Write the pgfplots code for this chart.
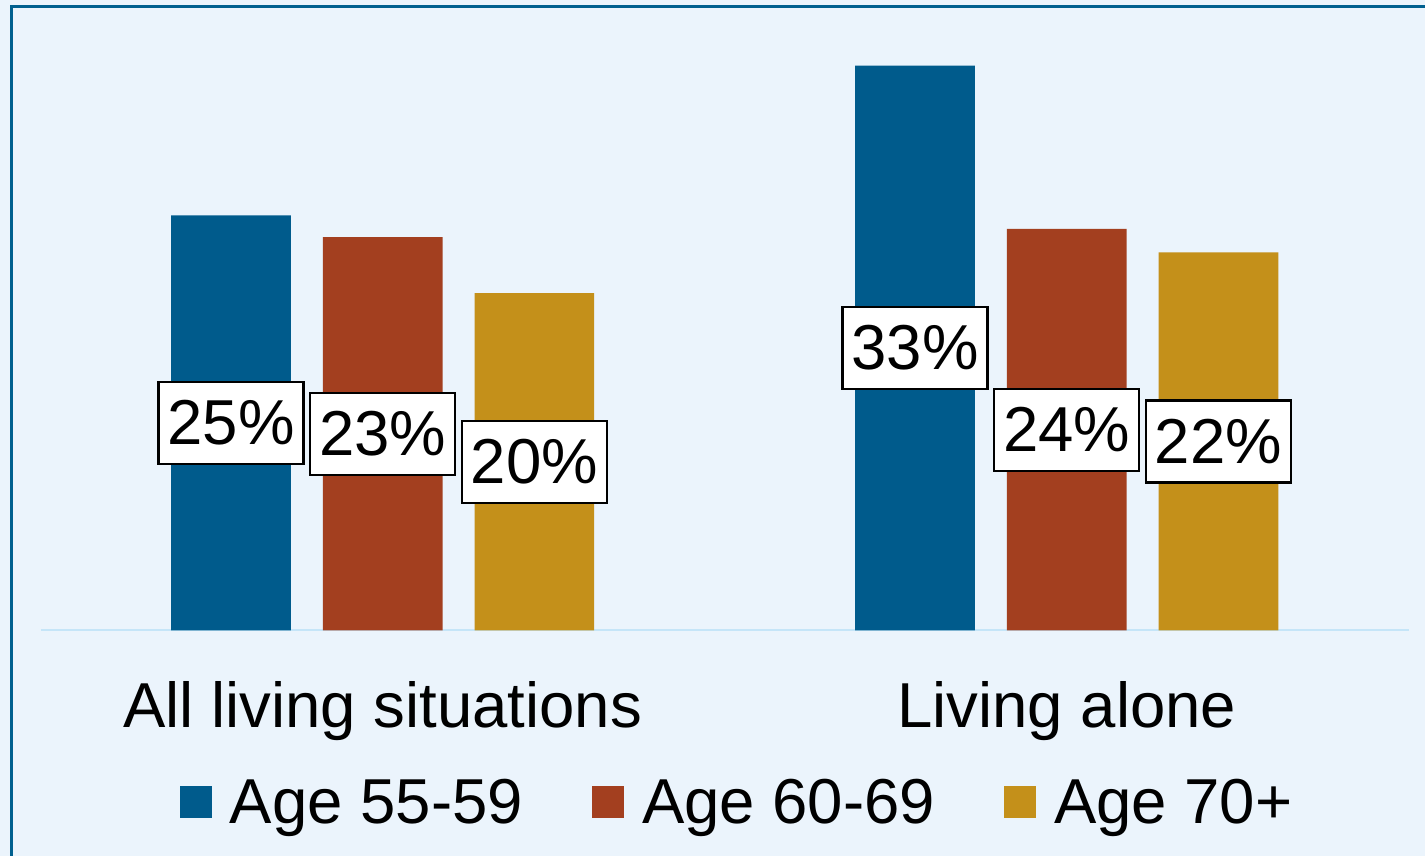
\documentclass[border=0pt]{standalone}
\usepackage{fontspec}
\setmainfont{Liberation Sans}
\usepackage{pgfplots}
\pgfplotsset{compat=1.18}
\definecolor{cblue}{HTML}{005B8C}
\definecolor{cred}{HTML}{A33F1F}
\definecolor{cgold}{HTML}{C4901A}
\definecolor{bgc}{HTML}{EBF4FC}
\definecolor{basec}{HTML}{C5E5F8}
\definecolor{framec}{HTML}{00608F}
\newcommand{\bigfont}{\fontsize{31.75pt}{38pt}\selectfont}
\pgfplotsset{sq legend/.style={legend image code/.code={\fill[##1] (0pt,-5.75pt) rectangle (16pt,10.25pt);}}}
\begin{document}
\begin{tikzpicture}
\fill[bgc] (0,0) rectangle (712.5pt,428pt);
\draw[framec, line width=1.25pt] (5.75pt,0) -- (5.75pt,424.75pt) -- (712.5pt,424.75pt);
\begin{axis}[
  at={(20.3pt,112.75pt)}, anchor=south west,
  scale only axis, width=684.1pt, height=304.2pt,
  xmin=-0.5, xmax=1.5, ymin=0, ymax=36,
  ybar=16pt, bar width=59.85pt,
  axis x line=bottom, axis y line=none,
  x axis line style={-, draw=basec, line width=1pt},
  xtick={0,1}, xticklabels={All living situations, Living alone},
  major tick length=0pt, xtick style={draw=none},
  xticklabel style={font=\bigfont, anchor=base, yshift=-48.75pt},
  ytick=\empty,
  clip=false,
  point meta=y,
  nodes near coords={\pgfmathprintnumber[fixed,precision=0,assume math mode=true]{\pgfplotspointmeta}\%},
  visualization depends on={rawy \as \rawy},
  every node near coord/.append style={font=\bigfont, text=black, fill=white, draw=black, line width=1.1pt, inner sep=0pt, minimum width=72.5pt, minimum height=41pt, anchor=center, yshift={-4.225pt*\rawy}},
  legend columns=3,
  legend style={at={(0.1016,-0.2893)}, anchor=west, draw=none, fill=none, inner xsep=0pt, inner ysep=0pt, font=\bigfont, /tikz/column sep=0pt, nodes={inner sep=0pt, text height=23.2pt, text depth=6.7pt}, /tikz/every odd column/.append style={column sep=9pt}, /tikz/every even column/.append style={column sep=34.5pt}},
  legend cell align=left,
]
\addplot[fill=cblue, draw=none, sq legend] coordinates {(0,24.57) (1,33.43)};
\addplot[fill=cred, draw=none, sq legend] coordinates {(0,23.27) (1,23.77)};
\addplot[fill=cgold, draw=none, sq legend] coordinates {(0,19.96) (1,22.37)};
\legend{Age 55-59, Age 60-69, Age 70+}
\end{axis}
\pgfresetboundingbox
\path (0,0) rectangle (712.5pt,428pt);
\end{tikzpicture}
\end{document}
